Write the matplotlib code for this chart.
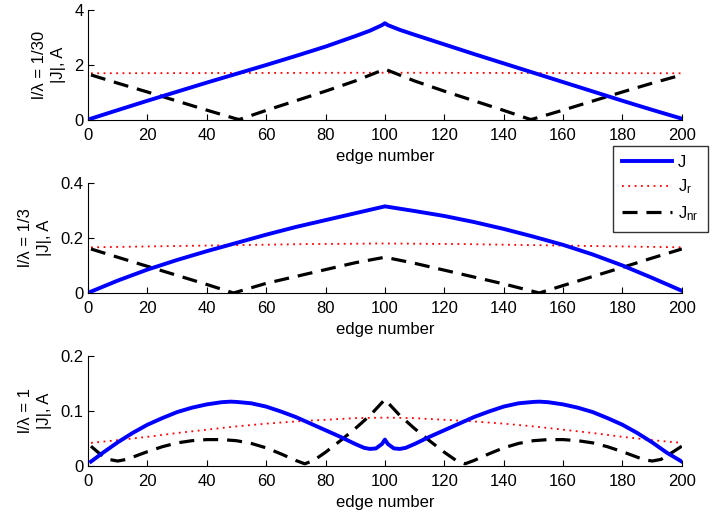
import matplotlib
matplotlib.use("Agg")
import matplotlib.pyplot as plt

plt.rcParams['font.family'] = ['Liberation Sans', 'DejaVu Sans']
plt.rcParams['mathtext.default'] = 'regular'
plt.rcParams['font.size'] = 12

# ========== DATA ==========
# panel 1: l/lambda = 1/30
x1 = [1, 10, 20, 30, 40, 50, 60, 70, 80, 90, 95, 99, 100, 101, 105, 110, 120, 130, 140, 150, 160, 170, 180, 190, 200]
j1 = [0.05, 0.36, 0.70, 1.03, 1.36, 1.68, 2.00, 2.33, 2.67, 3.05, 3.25, 3.45, 3.52, 3.45, 3.28, 3.10, 2.75, 2.40, 2.06, 1.72, 1.38, 1.04, 0.70, 0.37, 0.05]
x1r = [1, 50, 100, 150, 200]
jr1 = [1.70, 1.71, 1.72, 1.71, 1.70]
x1nr = [1, 10, 20, 30, 40, 50, 51, 60, 70, 80, 90, 100, 110, 120, 130, 140, 149, 150, 160, 170, 180, 190, 200]
jnr1 = [1.64, 1.34, 1.02, 0.69, 0.36, 0.04, 0.02, 0.35, 0.70, 1.05, 1.42, 1.85, 1.42, 1.05, 0.70, 0.35, 0.02, 0.04, 0.36, 0.69, 1.02, 1.34, 1.64]

# panel 2: l/lambda = 1/3
x2 = [1, 10, 20, 30, 40, 50, 60, 70, 80, 90, 100, 110, 120, 130, 140, 150, 160, 170, 180, 190, 200]
j2 = [0.005, 0.045, 0.085, 0.120, 0.152, 0.182, 0.212, 0.240, 0.265, 0.290, 0.315, 0.298, 0.280, 0.258, 0.233, 0.205, 0.175, 0.140, 0.100, 0.055, 0.008]
x2r = [1, 25, 50, 75, 100, 125, 150, 175, 200]
jr2 = [0.166, 0.170, 0.174, 0.178, 0.180, 0.178, 0.174, 0.170, 0.166]
x2nr = [1, 10, 20, 30, 40, 49, 60, 70, 80, 90, 100, 110, 120, 130, 140, 152, 160, 170, 180, 190, 200]
jnr2 = [0.160, 0.130, 0.097, 0.064, 0.031, 0.000, 0.035, 0.060, 0.085, 0.110, 0.130, 0.108, 0.083, 0.058, 0.033, 0.000, 0.027, 0.060, 0.093, 0.127, 0.160]

# panel 3: l/lambda = 1
x3 = [1, 5, 10, 15, 20, 25, 30, 35, 40, 45, 48, 50, 55, 60, 65, 70, 75, 80, 85, 90, 93, 95, 97, 99, 100,
      101, 103, 105, 107, 110, 115, 120, 125, 130, 135, 140, 145, 150, 152, 155, 160, 165, 170, 175, 180, 185, 190, 195, 200]
j3 = [0.008, 0.024, 0.043, 0.060, 0.075, 0.087, 0.098, 0.106, 0.112, 0.116, 0.117, 0.1165, 0.114, 0.108, 0.099, 0.089, 0.077, 0.065, 0.053, 0.040, 0.033, 0.031, 0.032, 0.040, 0.048,
      0.040, 0.032, 0.031, 0.033, 0.040, 0.053, 0.065, 0.077, 0.089, 0.099, 0.108, 0.114, 0.1165, 0.117, 0.116, 0.112, 0.106, 0.098, 0.087, 0.075, 0.060, 0.043, 0.024, 0.008]
x3r = [1, 10, 20, 30, 40, 50, 60, 70, 80, 90, 100, 110, 120, 130, 140, 150, 160, 170, 180, 190, 200]
jr3 = [0.042, 0.047, 0.053, 0.060, 0.066, 0.072, 0.077, 0.081, 0.084, 0.087, 0.088, 0.087, 0.084, 0.081, 0.077, 0.072, 0.066, 0.060, 0.053, 0.047, 0.042]
x3nr = [1, 4, 7, 10, 13, 16, 20, 25, 30, 35, 40, 45, 50, 55, 60, 65, 70, 73, 76, 80, 85, 90, 95, 100,
        105, 110, 115, 120, 124, 127, 130, 135, 140, 145, 150, 155, 160, 165, 170, 175, 180, 184, 187, 190, 193, 196, 200]
jnr3 = [0.036, 0.022, 0.012, 0.009, 0.012, 0.018, 0.026, 0.035, 0.042, 0.046, 0.048, 0.048, 0.046, 0.041, 0.033, 0.022, 0.010, 0.004, 0.010, 0.025, 0.046, 0.068, 0.092, 0.121,
        0.092, 0.068, 0.046, 0.025, 0.010, 0.004, 0.010, 0.022, 0.033, 0.041, 0.046, 0.048, 0.048, 0.046, 0.042, 0.035, 0.026, 0.018, 0.012, 0.009, 0.012, 0.022, 0.036]

panel_labels = ['l/\u03bb = 1/30\n|J|, A', 'l/\u03bb = 1/3\n|J|, A', 'l/\u03bb = 1\n|J|, A']
y_ticks = [[0, 2, 4], [0, 0.2, 0.4], [0, 0.1, 0.2]]
y_ticklabels = [['0', '2', '4'], ['0', '0.2', '0.4'], ['0', '0.1', '0.2']]
x_ticks = list(range(0, 201, 20))

panels = [(x1, j1, x1r, jr1, x1nr, jnr1),
          (x2, j2, x2r, jr2, x2nr, jnr2),
          (x3, j3, x3r, jr3, x3nr, jnr3)]

# ========== PLOT ==========
fig = plt.figure(figsize=(7.12, 5.14), dpi=100)
bottoms = [0.7665, 0.430, 0.0934]
for i, (xa, ja, xb, jb, xc, jc) in enumerate(panels):
    ax = fig.add_axes([0.1236, bottoms[i], 0.834, 0.214])
    ax.plot(xa, ja, color='#0000ff', lw=2.8, label='J', zorder=3)
    ax.plot(xb, jb, color='#ff0000', lw=1.3, dashes=(1.0, 2.5), label='J$_r$', zorder=2)
    ax.plot(xc, jc, color='black', lw=2.3, dashes=(4.7, 2.8), label='J$_{nr}$', zorder=2)
    ax.set_xlim(0, 200)
    ax.set_ylim(y_ticks[i][0], y_ticks[i][-1])
    ax.set_xticks(x_ticks)
    ax.set_yticks(y_ticks[i])
    ax.set_yticklabels(y_ticklabels[i])
    ax.set_xlabel('edge number', labelpad=4)
    ax.set_ylabel(panel_labels[i], linespacing=1.35, labelpad=6)
    ax.spines['top'].set_visible(False)
    ax.spines['right'].set_visible(False)
    ax.tick_params(direction='in', length=4, labelsize=12)
    ax.tick_params(axis='x', pad=6)
    ax.tick_params(axis='y', pad=3)
    if i == 0:
        handles, labels = ax.get_legend_handles_labels()

fig.legend(handles, labels, loc='upper left', bbox_to_anchor=(0.861, 0.716),
           borderaxespad=0, frameon=True, fancybox=False, edgecolor='black',
           handlelength=3.0, labelspacing=0.45, fontsize=12, borderpad=0.55,
           handletextpad=0.35)

plt.savefig("out.png", dpi=100)
